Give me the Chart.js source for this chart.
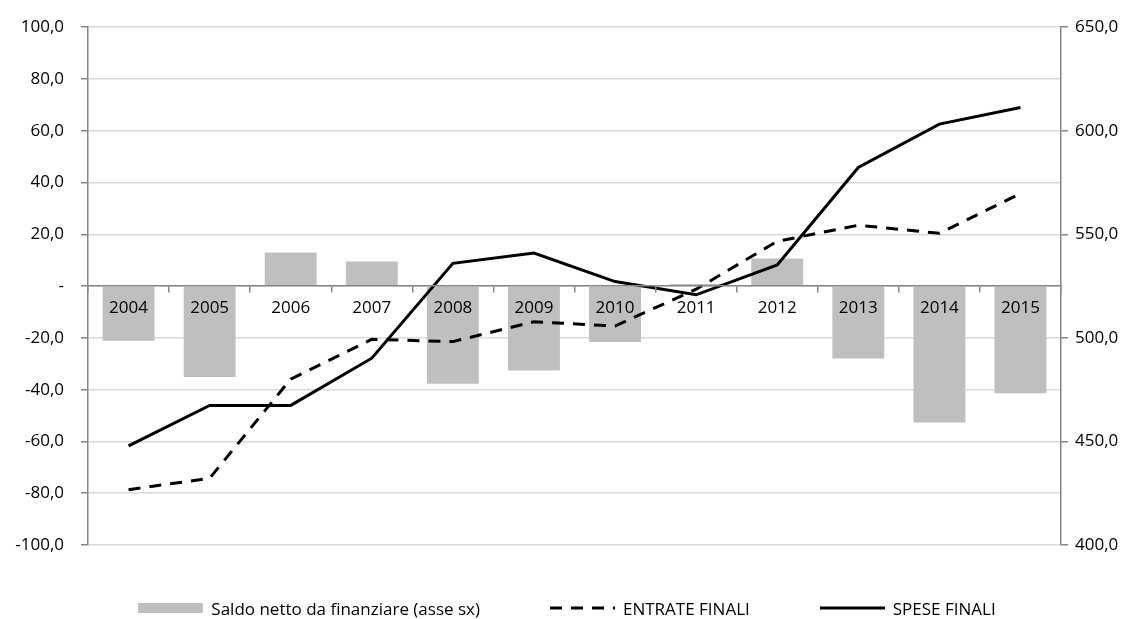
<!DOCTYPE html>
<html>
<head>
<meta charset="utf-8">
<script src="https://cdn.jsdelivr.net/npm/chart.js@4/dist/chart.umd.min.js"></script>
<style>
	body{margin:0;background:#fff;}
	#wrap{position:relative;width:1134px;height:619px;}
	#legend{position:absolute;left:0;top:596px;width:1134px;height:24px;display:flex;justify-content:center;align-items:center;gap:70px;font-family:"Open Sans",sans-serif;font-size:17px;color:#000;}
	.item{display:flex;align-items:center;gap:8px;}
</style>
</head>
<body>
<div id="wrap">
	<canvas id="c" width="1134" height="619"></canvas>
	<div id="legend"></div>
</div>
<script>
const years = ['2004', '2005', '2006', '2007', '2008', '2009', '2010', '2011', '2012', '2013', '2014', '2015'];
const saldo = [-21.1, -35.1, 13.0, 9.5, -37.7, -32.6, -21.6, 0.8, 10.7, -28.0, -52.7, -41.4];
const entrate = [426.7, 432.2, 480.1, 499.3, 498.2, 507.8, 505.7, 523.5, 546.6, 554.4, 550.5, 569.7];
const spese = [447.9, 467.4, 467.4, 490.2, 536.0, 541.0, 527.2, 520.8, 535.2, 582.3, 603.2, 611.2];

const axisGrey = '#868686';
const font = {family: '"Open Sans", sans-serif', size: 17};

function fmt(v){
	if (v == 0) return '-';
	return v.toFixed(1).replace('.', ',');
}

const chart = new Chart(document.getElementById('c'), {
	data: {
		labels: years,
		datasets: [{
			type: 'bar',
			label: 'Saldo netto da finanziare (asse sx)',
			data: saldo,
			backgroundColor: '#bfbfbf',
			yAxisID: 'y',
			categoryPercentage: 1,
			barPercentage: 0.64,
			order: 3
		}, {
			type: 'line',
			label: 'ENTRATE FINALI',
			data: entrate,
			borderColor: '#000',
			borderWidth: 3,
			borderDash: [12, 9],
			pointRadius: 0,
			tension: 0,
			yAxisID: 'y1',
			order: 2
		}, {
			type: 'line',
			label: 'SPESE FINALI',
			data: spese,
			borderColor: '#000',
			borderWidth: 3,
			pointRadius: 0,
			tension: 0,
			yAxisID: 'y1',
			order: 1
		}]
	},
	options: {
		responsive: false,
		animation: false,
		layout: {padding: {top: 23, bottom: 74, left: 0, right: 0}},
		plugins: {legend: {display: false}, tooltip: {enabled: false}},
		scales: {
			x: {
				position: {y: 0},
				grid: {offset: true, drawOnChartArea: false, tickLength: 6, tickColor: axisGrey, lineWidth: 1.5, z: 1},
				border: {color: axisGrey, width: 1.5, z: 1},
				ticks: {font: font, color: '#000', padding: 6, maxRotation: 0, z: 1}
			},
			y: {
				position: 'left',
				min: -100,
				max: 100,
				afterFit: (s) => { s.width = 88; },
				ticks: {stepSize: 20, font: font, color: '#000', padding: 17, callback: (v) => fmt(v)},
				grid: {color: '#d9d9d9', lineWidth: 1.5, tickLength: 7, tickColor: axisGrey},
				border: {color: axisGrey, width: 1.5}
			},
			y1: {
				position: 'right',
				min: 400,
				max: 650,
				afterFit: (s) => { s.width = 73; },
				ticks: {stepSize: 50, font: font, color: '#000', padding: 7, callback: (v) => fmt(v)},
				grid: {drawOnChartArea: false, tickLength: 7, tickColor: axisGrey, lineWidth: 1.5},
				border: {color: axisGrey, width: 1.5}
			}
		}
	}
});

// legend built from the datasets
const legend = document.getElementById('legend');
chart.data.datasets.forEach((ds) => {
	let item = document.createElement('div');
	item.className = 'item';
	let sw;
	if (ds.type == 'bar'){
		sw = document.createElement('span');
		sw.style = 'display:inline-block;width:65px;height:10px;background:' + ds.backgroundColor;
	} else {
		sw = document.createElementNS('http://www.w3.org/2000/svg', 'svg');
		sw.setAttribute('width', 65);
		sw.setAttribute('height', 6);
		let l = document.createElementNS('http://www.w3.org/2000/svg', 'line');
		l.setAttribute('x1', 0); l.setAttribute('x2', 65);
		l.setAttribute('y1', 3); l.setAttribute('y2', 3);
		l.setAttribute('stroke', ds.borderColor);
		l.setAttribute('stroke-width', ds.borderWidth);
		if (ds.borderDash) l.setAttribute('stroke-dasharray', ds.borderDash.join(' '));
		sw.appendChild(l);
	}
	let txt = document.createElement('span');
	txt.textContent = ds.label;
	item.appendChild(sw);
	item.appendChild(txt);
	legend.appendChild(item);
});
</script>
</body>
</html>
